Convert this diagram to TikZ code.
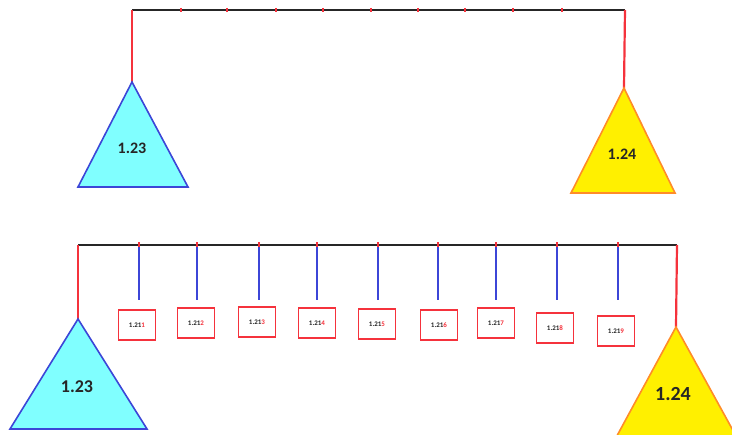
\documentclass[tikz,border=0pt]{standalone}
\usepackage{fontspec}
\setmainfont{Carlito}
\definecolor{aqua}{RGB}{128,255,255}
\definecolor{rline}{RGB}{245,50,60}
\definecolor{bline}{RGB}{60,70,215}
\definecolor{oline}{RGB}{255,140,40}
\definecolor{yfill}{RGB}{255,240,0}
\begin{document}
\begin{tikzpicture}[x=1pt,y=-1pt,
  beam/.style={draw=black!85,line width=2.4pt},
  post/.style={draw=rline,line width=2.2pt},
  drop/.style={draw=bline,line width=1.5pt},
  tick/.style={draw=rline,line width=1.4pt},
  cyantri/.style={fill=aqua,draw=bline,line width=1.6pt,line join=miter},
  yeltri/.style={fill=yfill,draw=oline,line width=1.6pt,line join=miter},
  tlabel/.style={font=\bfseries\fontsize{16}{16}\selectfont,text=black!85},
  box/.style={draw=rline,line width=1.7pt,fill=white,minimum width=37pt,minimum height=30pt,inner sep=0pt,font=\bfseries\fontsize{7}{7}\selectfont,text=black!85}
]
\useasboundingbox (0,0) rectangle (732,435);
\clip (0,0) rectangle (732,435);

% ---------- top structure ----------
\coordinate (TL) at (132,10);
\coordinate (TR) at (625,10);
\coordinate (TA1) at (132,82);
\coordinate (TA2) at (624,88);
\draw[beam] (TL) -- (TR);
\foreach \x [count=\i] in {181,227,276,323,371,418,465,513,562}
  \draw[tick] (\x,8) -- (\x,12.5);
\draw[post] (TL) -- (TA1);
\draw[post] (TR) -- (TA2);
\draw[cyantri] (TA1) -- (188,187) -- (78,187) -- cycle;
\node[tlabel] (t1) at (132,148) {1.23};
\draw[yeltri] (TA2) -- (675,193) -- (571,193) -- cycle;
\node[tlabel] (t2) at (622,154) {1.24};

% ---------- bottom structure ----------
\coordinate (BL) at (78,245);
\coordinate (BR) at (677,245);
\coordinate (BA1) at (78,319);
\coordinate (BA2) at (676,327);
\draw[beam] (BL) -- (BR);
\draw[post] (BL) -- (BA1);
\draw[post] (BR) -- (BA2);

\foreach \x/\bx/\by/\d [count=\i] in {
  139/137/325/1, 197/196/323/2, 259/257/322/3, 317/317/323/4, 378/377/324/5,
  438/439/325/6, 496/496/323/7, 557/555/328/8, 618/616/331/9} {
  \coordinate (d\i) at (\x,245);
  \coordinate (e\i) at (\x,300);
  \draw[drop] (d\i) -- (e\i);
  \draw[tick] (\x,242.5) -- (\x,247);
  \node[box] (b\i) at (\bx,\by) {1.21\textcolor{rline}{\d}};
}

\draw[cyantri] (BA1) -- (147,429) -- (10,429) -- cycle;
\node[tlabel,font=\bfseries\fontsize{18}{18}\selectfont] (t3) at (77,387) {1.23};
\draw[yeltri] (BA2) -- (741,445) -- (612,445) -- cycle;
\node[tlabel,font=\bfseries\fontsize{20}{20}\selectfont] (t4) at (673,394) {1.24};
\end{tikzpicture}
\end{document}
